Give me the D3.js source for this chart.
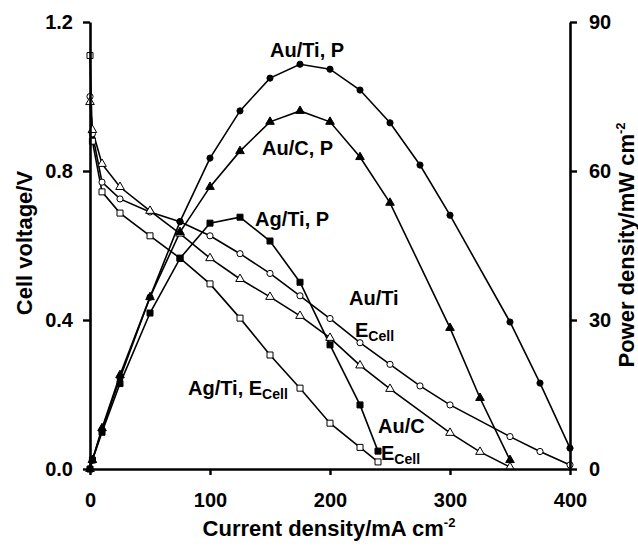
<!DOCTYPE html>
<html>
<head>
<meta charset="utf-8">
<script src="https://cdn.jsdelivr.net/npm/d3@7"></script>
<style>
  html, body { margin: 0; padding: 0; background: #fff; }
  svg { display: block; font-family: "Liberation Sans", Arial, sans-serif; font-weight: bold; }
</style>
</head>
<body>
<svg id="chart" width="638" height="547"></svg>
<script>
// ---- data ----
const xTicks = [0, 100, 200, 300, 400];
const vTicks = [0.0, 0.4, 0.8, 1.2];
const pTicks = [0, 30, 60, 90];

const currentAuTi = [0, 2, 10, 25, 50, 75, 100, 125, 150, 175, 200, 225, 250, 275, 300, 350, 375, 400];
const ecellAuTi   = [1.00, 0.90, 0.77, 0.725, 0.69, 0.664, 0.626, 0.578, 0.525, 0.465, 0.404, 0.339, 0.281, 0.223, 0.172, 0.087, 0.047, 0.011];
const powerAuTi   = [0, 1.8, 7.8, 18.3, 34.6, 49.8, 62.6, 72.1, 78.7, 81.5, 80.5, 76.3, 69.7, 61.2, 51.1, 29.6, 17.3, 4.2];

const currentAuC = [0, 2, 10, 25, 50, 75, 100, 125, 150, 175, 200, 225, 250, 300, 325, 350];
const ecellAuC   = [0.985, 0.91, 0.819, 0.757, 0.693, 0.632, 0.566, 0.51, 0.462, 0.411, 0.352, 0.278, 0.215, 0.097, 0.046, 0.005];
const powerAuC   = [0, 1.8, 8.2, 18.9, 34.6, 47.7, 56.8, 64.0, 69.9, 72.1, 69.9, 62.8, 53.6, 28.4, 14.3, 1.8];

const currentAgTi = [0, 2, 10, 25, 50, 75, 100, 125, 150, 175, 200, 225, 240];
const ecellAgTi   = [1.11, 0.88, 0.744, 0.687, 0.626, 0.566, 0.497, 0.405, 0.306, 0.217, 0.123, 0.058, 0.019];
const powerAgTi   = [0, 1.8, 7.4, 17.2, 31.4, 42.4, 49.5, 50.7, 45.9, 37.6, 25.0, 12.9, 3.6];

// ---- layout ----
const svg = d3.select("#chart");
const x = d3.scaleLinear().domain([0, 400]).range([90, 570]);
const yV = d3.scaleLinear().domain([0, 1.2]).range([469, 22]);
const yP = d3.scaleLinear().domain([0, 90]).range([469, 22]);

const zip = (xs, ys) => xs.map((d, i) => [d, ys[i]]);

const series = [
  { pts: zip(currentAuTi, ecellAuTi), y: yV, sym: d3.symbolCircle, size: 30, fill: "#fff" },
  { pts: zip(currentAuC,  ecellAuC),  y: yV, sym: d3.symbolTriangle, size: 32, fill: "#fff" },
  { pts: zip(currentAgTi, ecellAgTi), y: yV, sym: d3.symbolSquare, size: 36, fill: "#fff" },
  { pts: zip(currentAuTi, powerAuTi), y: yP, sym: d3.symbolCircle, size: 30, fill: "#000" },
  { pts: zip(currentAuC,  powerAuC),  y: yP, sym: d3.symbolTriangle, size: 32, fill: "#000" },
  { pts: zip(currentAgTi, powerAgTi), y: yP, sym: d3.symbolSquare, size: 36, fill: "#000" }
];

series.forEach(s => {
  const line = d3.line().x(d => x(d[0])).y(d => s.y(d[1]));
  svg.append("path").attr("d", line(s.pts))
    .attr("fill", "none").attr("stroke", "#000").attr("stroke-width", 1.6);
});
series.forEach(s => {
  svg.append("g").selectAll("path").data(s.pts).join("path")
    .attr("transform", d => `translate(${x(d[0])},${s.y(d[1])})`)
    .attr("d", d3.symbol().type(s.sym).size(s.size))
    .attr("fill", s.fill).attr("stroke", "#000").attr("stroke-width", 1);
});

// ---- axes ----
const axB = svg.append("g").attr("transform", "translate(0,469)")
  .call(d3.axisBottom(x).tickValues(xTicks).tickSize(6).tickPadding(18).tickSizeOuter(0).tickFormat(d3.format("d")));
const axL = svg.append("g").attr("transform", "translate(90,0)")
  .call(d3.axisLeft(yV).tickValues(vTicks).tickSize(7).tickPadding(10).tickSizeOuter(0).tickFormat(d3.format(".1f")));
const axR = svg.append("g").attr("transform", "translate(570,0)")
  .call(d3.axisRight(yP).tickValues(pTicks).tickSize(7).tickPadding(12).tickSizeOuter(0).tickFormat(d3.format("d")));

[axB, axL, axR].forEach(a => {
  a.select(".domain").attr("stroke", "#000").attr("stroke-width", 2.6);
  a.selectAll(".tick line").attr("stroke", "#000").attr("stroke-width", 2.4);
  a.selectAll(".tick text").attr("fill", "#000").style("font-size", "20px").style("font-weight", "bold")
    .style("font-family", '"Liberation Sans", Arial, sans-serif');
});
axB.selectAll(".tick text").attr("dy", "0.71em");

// ---- axis titles ----
const bt = svg.append("text").attr("x", 329).attr("y", 536).attr("text-anchor", "middle")
  .style("font-size", "22px");
bt.append("tspan").text("Current density/mA cm");
bt.append("tspan").attr("dy", -9).style("font-size", "13px").text("-2");

svg.append("text").attr("transform", "translate(32,243) rotate(-90)").attr("text-anchor", "middle")
  .style("font-size", "22px").text("Cell voltage/V");

const rt = svg.append("text").attr("transform", "translate(634,245) rotate(-90)").attr("text-anchor", "middle")
  .style("font-size", "22px");
rt.append("tspan").text("Power density/mW cm");
rt.append("tspan").attr("dy", -9).style("font-size", "13px").text("-2");

// ---- annotations ----
function label(xp, yp, main, sub) {
  const t = svg.append("text").attr("x", xp).attr("y", yp).style("font-size", "20px");
  t.append("tspan").text(main);
  if (sub) t.append("tspan").attr("dy", 4).style("font-size", "14px").text(sub);
  return t;
}
label(270, 57, "Au/Ti, P");
label(262, 155, "Au/C, P");
label(255, 226, "Ag/Ti, P");
label(349, 305, "Au/Ti");
label(355, 337, "E", "Cell");
label(378, 433, "Au/C");
label(381, 460, "E", "Cell");
label(188, 395, "Ag/Ti, E", "Cell");
</script>
</body>
</html>
